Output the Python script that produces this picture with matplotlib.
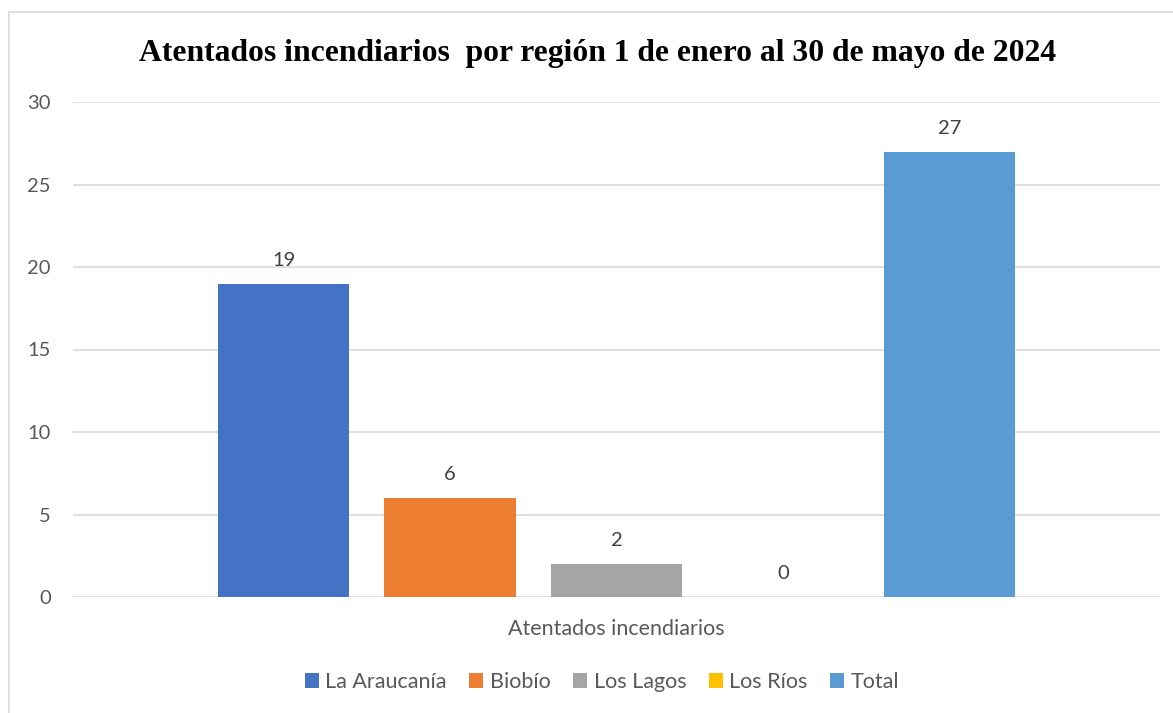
import matplotlib
matplotlib.use("Agg")
import matplotlib.pyplot as plt
from matplotlib.patches import Rectangle, Patch

# data
regions = ["La Araucanía", "Biobío", "Los Lagos", "Los Ríos", "Total"]
values = [19, 6, 2, 0, 27]
colors = ["#4472C4", "#ED7D31", "#A5A5A5", "#FFC000", "#5B9BD5"]
category = "Atentados incendiarios"
yticks = [0, 5, 10, 15, 20, 25, 30]

fig = plt.figure(figsize=(11.73, 7.13), dpi=100)
fig.patches.append(Rectangle((9 / 1173, -0.01), 1.02, 1 - 12 / 713 + 0.01,
                             transform=fig.transFigure, fill=False,
                             edgecolor="#D9D9D9", linewidth=1.2))

ax = fig.add_axes([73 / 1173, 1 - 597 / 713, (1160 - 73) / 1173, (597 - 102) / 713])

positions = [i - (len(values) - 1) / 2 for i in range(len(values))]
bars = ax.bar(positions, values, width=0.79, color=colors, zorder=3)
for x, v in zip(positions, values):
    ax.text(x, v + 0.9, str(v), ha="center", va="bottom", fontsize=14.5,
            color="#404040", family="Lato")

ax.set_xlim(-3.265, 3.265)
ax.set_ylim(0, 30)
ax.set_yticks(yticks)
ax.set_yticklabels([str(t) for t in yticks], fontsize=14.5, color="#595959", family="Lato")
ax.tick_params(axis="y", length=0, pad=16)
ax.set_xticks([])
ax.grid(axis="y", color="#D9D9D9", linewidth=1.2, zorder=0)
for s in ax.spines.values():
    s.set_visible(False)

fig.text(616 / 1173, 1 - 629 / 713, category, ha="center", va="center",
         fontsize=15.5, color="#595959", family="Lato")

fig.text(598 / 1173, 1 - 54 / 713,
         "Atentados incendiarios  por región 1 de enero al 30 de mayo de 2024",
         ha="center", va="center", fontsize=22.8, fontweight="bold",
         family="Liberation Serif", color="black")

handles = [Patch(facecolor=c, label=r) for r, c in zip(regions, colors)]
leg = fig.legend(handles=handles, loc="center", ncol=5,
                 bbox_to_anchor=(602 / 1173, 1 - 682 / 713), frameon=False,
                 prop={"family": "Lato", "size": 15.5}, handlelength=0.65,
                 handleheight=0.65, handletextpad=0.3, columnspacing=1.05)
for t in leg.get_texts():
    t.set_color("#595959")

fig.savefig("out.png", dpi=100)
